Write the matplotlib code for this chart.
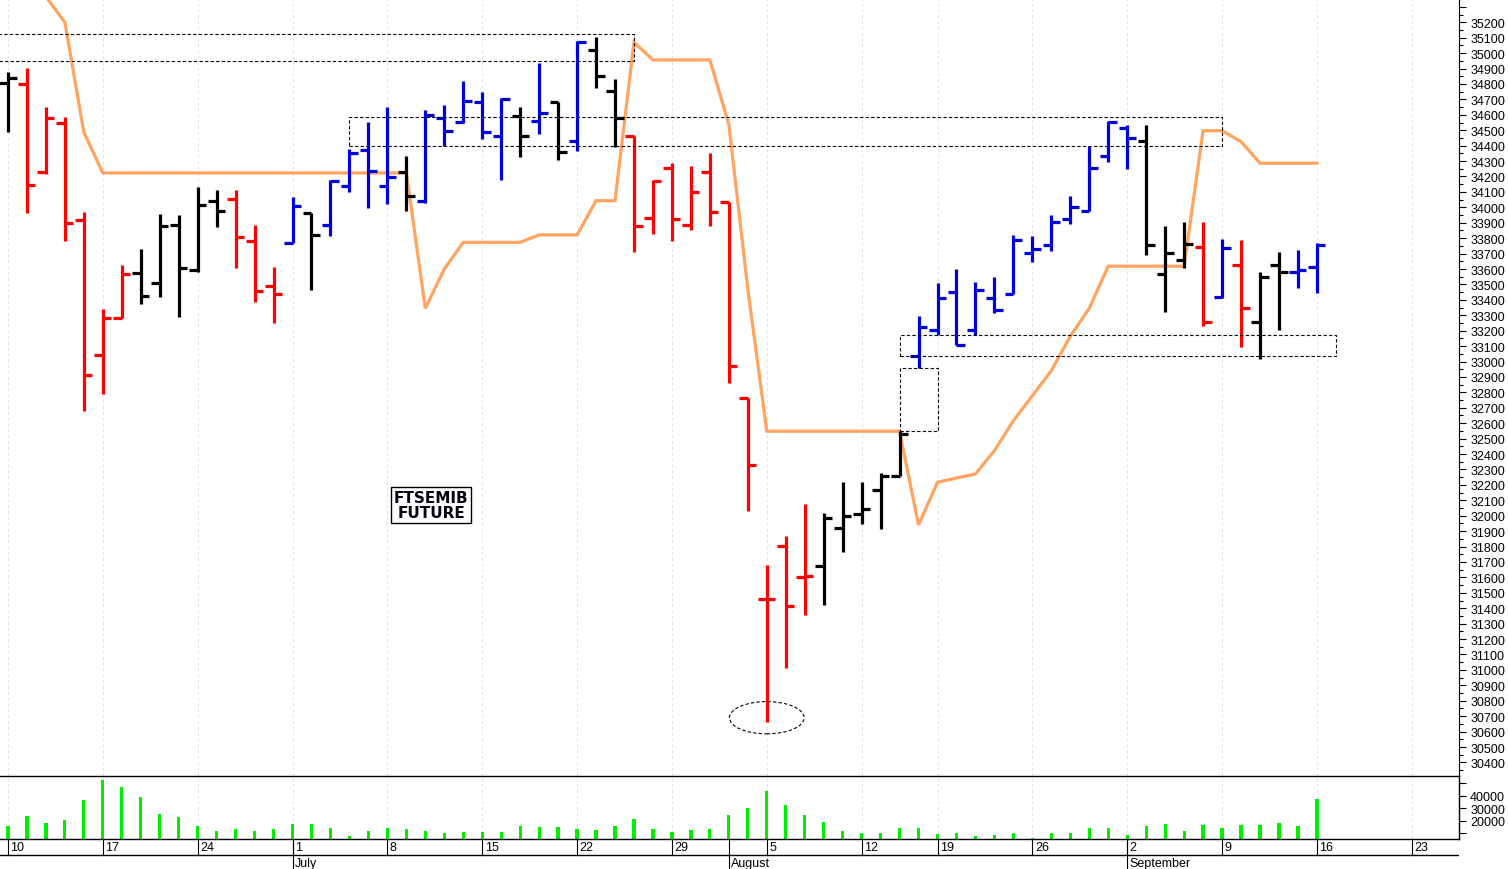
import numpy as np
import pandas as pd
import matplotlib
matplotlib.use('Agg')
import matplotlib.pyplot as plt
from matplotlib.patches import Rectangle, Ellipse
from matplotlib.ticker import MultipleLocator, FixedLocator, FuncFormatter

plt.rcParams['font.family'] = ['Liberation Sans', 'DejaVu Sans']

# Trading calendar (Borsa Italiana closed on Aug 15)
days = pd.bdate_range('2024-06-10', '2024-09-27')
days = days[days != pd.Timestamp('2024-08-15')]
n_bars = 70  # Jun 10 -> Sep 16

# Daily OHLC of the FTSEMIB future
opens = [34804, 34798, 34227, 34547, 33920, 33042, 33280, 33572, 33507, 33885,
         33596, 34043, 34054, 33780, 33488, 33769, 33963, 33885, 34136, 34374,
         34140, 34227, 34039, 34579, 34555, 34681, 34461, 34590, 34558, 34685,
         34428, 35020, 34756, 34465, 33931, 34253, 33887, 34230, 34037, 32762,
         31460, 31806, 31601, 31672, 31919, 32011, 32169, 32260, 33034, 33207,
         33449, 33205, 33410, 33438, 33702, 33758, 33924, 33978, 34335, 34513,
         34428, 33568, 33659, 33745, 33417, 33628, 33254, 33628, 33579, 33615]
highs = [34876, 34902, 34649, 34584, 33968, 33341, 33628, 33730, 33957, 33950,
         34130, 34114, 34114, 33887, 33611, 34065, 33963, 34177, 34378, 34552,
         34649, 34335, 34633, 34664, 34817, 34746, 34707, 34649, 34934, 34685,
         35077, 35107, 34832, 34465, 34177, 34286, 34265, 34355, 34037, 32762,
         31681, 31867, 32076, 32018, 32217, 32217, 32277, 32548, 33293, 33507,
         33600, 33518, 33550, 33823, 33812, 33950, 34076, 34400, 34562, 34536,
         34536, 33881, 33907, 33907, 33795, 33788, 33579, 33712, 33725, 33767]
lows = [34487, 33961, 34216, 33780, 32681, 32790, 33280, 33373, 33417, 33287,
        33583, 33871, 33605, 33384, 33250, 33769, 33466, 33812, 34101, 33994,
        34022, 33978, 34028, 34396, 34547, 34443, 34179, 34325, 34476, 34307,
        34367, 34774, 34393, 33708, 33827, 33784, 33851, 33876, 32860, 32031,
        30660, 31011, 31356, 31421, 31763, 31947, 31914, 32260, 32956, 33174,
        33107, 33174, 33313, 33438, 33647, 33719, 33892, 33978, 34296, 34249,
        33693, 33323, 33607, 33232, 33412, 33096, 33016, 33207, 33477, 33443]
closes = [34837, 34145, 34577, 33898, 32913, 33280, 33568, 33427, 33881, 33607,
          34015, 33978, 33806, 33460, 33438, 34007, 33821, 34173, 34352, 34238,
          34195, 34076, 34599, 34493, 34692, 34487, 34703, 34465, 34612, 34357,
          35070, 34854, 34577, 33877, 34173, 33922, 34099, 33969, 32973, 32332,
          31460, 31413, 31611, 31985, 32000, 32044, 32260, 32530, 33222, 33410,
          33107, 33464, 33334, 33788, 33730, 33903, 34000, 34253, 34555, 34448,
          33758, 33702, 33762, 33254, 33736, 33345, 33546, 33579, 33594, 33756]
# bar colouring signal: u = blue, d = red, n = black
trend = list('nddddddnnnnndddunuuuunuuuuunununnddddddddddnnnnnuuuuuuuuuuuunnndudnnuu')

# Stop line (orange)
stop_line = [35600, 35500, 35366, 35200, 34487, 34223, 34223, 34223, 34223, 34223,
             34223, 34223, 34223, 34223, 34223, 34223, 34223, 34223, 34223, 34223,
             34223, 34223, 33345, 33600, 33773, 33773, 33773, 33773, 33821, 33821,
             33821, 34043, 34043, 35070, 34956, 34956, 34956, 34956, 34538, 33470,
             32548, 32548, 32548, 32548, 32548, 32548, 32548, 32548, 31940, 32217,
             32245, 32271, 32422, 32616, 32778, 32941, 33164, 33345, 33618, 33618,
             33618, 33618, 33618, 34497, 34497, 34426, 34286, 34286, 34286, 34286]

volume = [15520, 23760, 18160, 20320, 36800, 52800, 46720, 38720, 25360, 22720,
          15520, 12000, 13600, 12000, 13600, 17360, 17360, 13920, 7520, 12000,
          14400, 13120, 12000, 10400, 10720, 10720, 11200, 15520, 14720, 14720,
          13600, 12320, 15520, 21360, 13120, 10960, 12800, 13600, 24320, 29920,
          43520, 32560, 24320, 18960, 12000, 10160, 10160, 13920, 13920, 9360,
          9920, 8000, 8560, 10160, 6160, 10160, 10160, 13920, 13920, 8880,
          15520, 17360, 11760, 16260, 14400, 16260, 16260, 17860, 15520, 37360]

colors = {'u': '#0000dd', 'd': '#ff0000', 'n': '#000000'}
bar_cols = [colors[t] for t in trend]
x = np.arange(n_bars)

fig = plt.figure(figsize=(15.08, 8.70), dpi=100)
W = 1459 / 1508
ax = fig.add_axes([0, 93.3 / 870, W, 776.7 / 870])
axv = fig.add_axes([0, 30 / 870, W, 63.3 / 870], sharex=ax)
axd = fig.add_axes([0, 0, W, 30 / 870], sharex=ax)

xmin, xmax = -0.42, 76.49

# weekly grid (Mondays)
mondays = [i for i, d in enumerate(days) if d.weekday() == 0]
for a in (ax, axv):
    for m in mondays:
        a.axvline(m, color='#e2e2e2', lw=0.7, ls=(0, (3, 3)), zorder=0)

# orange stop line
ax.plot(x, stop_line, color='#ffa35f', lw=2.3, zorder=2, solid_joinstyle='miter')

# OHLC bars
ax.vlines(x, lows, highs, colors=bar_cols, lw=2.3, zorder=3)
ax.hlines(opens, x - 0.45, x, colors=bar_cols, lw=2.3, zorder=3)
ax.hlines(closes, x, x + 0.45, colors=bar_cols, lw=2.3, zorder=3)

# dotted boxes and ellipse
boxes = [(-2, 34950, 35, 172), (18, 34400, 46, 185), (47, 33035, 23, 137), (47, 32548, 2, 408)]
for bx, by, bw, bh in boxes:
    ax.add_patch(Rectangle((bx, by), bw, bh, fill=False, ec='black', lw=0.8,
                           ls=(0, (3, 2)), zorder=4))
ax.add_patch(Ellipse((40, 30690), 3.94, 209, fill=False, ec='black', lw=0.8,
                     ls=(0, (3, 2)), zorder=4))

ax.text(22.3, 32070, 'FTSEMIB\nFUTURE', ha='center', va='center', fontsize=11,
        fontweight='bold', family='DejaVu Sans', color='#000010', linespacing=1.0,
        bbox=dict(boxstyle='square,pad=0.2', fc='white', ec='black', lw=1), zorder=5)

ax.set_xlim(xmin, xmax)
ax.set_ylim(30314, 35351)
ax.yaxis.tick_right()
ax.yaxis.set_major_locator(MultipleLocator(100))
ax.yaxis.set_minor_locator(MultipleLocator(50))
ax.yaxis.set_major_formatter(FuncFormatter(lambda v, p: f'{v:.0f}' if 30400 <= v <= 35200 else ''))
ax.tick_params(axis='y', which='major', length=5, width=0.8, labelsize=9, pad=3)
ax.tick_params(axis='y', which='minor', length=3, width=0.8)
ax.tick_params(axis='x', which='both', bottom=False, labelbottom=False)
for s in ('top', 'left', 'bottom'):
    ax.spines[s].set_visible(False)

# volume panel
axv.bar(x, volume, width=0.17, color='#00ee00', zorder=2)
axv.set_ylim(5360, 56000)
axv.yaxis.tick_right()
axv.yaxis.set_major_locator(FixedLocator([10000, 20000, 30000, 40000, 50000]))
axv.yaxis.set_major_formatter(FuncFormatter(lambda v, p: f'{v:.0f}' if 20000 <= v <= 40000 else ''))
axv.tick_params(axis='y', length=5, width=0.8, labelsize=9, pad=3)
axv.tick_params(axis='x', bottom=False, labelbottom=False)
axv.spines['left'].set_visible(False)
for s in ('top', 'bottom', 'right'):
    axv.spines[s].set_linewidth(1.0)

# date band: day row and month row
axd.set_ylim(0, 30)
axd.axis('off')
axd.axhline(14, color='black', lw=1)
for m in mondays:
    axd.plot([m, m], [14, 30], color='black', lw=0.8)
    axd.text(m + 0.13, 22, str(days[m].day), ha='left', va='center', fontsize=9)
month_starts = [i for i in range(1, n_bars) if days[i].month != days[i - 1].month]
for m in month_starts:
    axd.plot([m, m], [0, 30], color='black', lw=0.8)
    axd.text(m + 0.1, 6, days[m].strftime('%B'), ha='left', va='center', fontsize=9)

fig.savefig('out.png', dpi=100)
